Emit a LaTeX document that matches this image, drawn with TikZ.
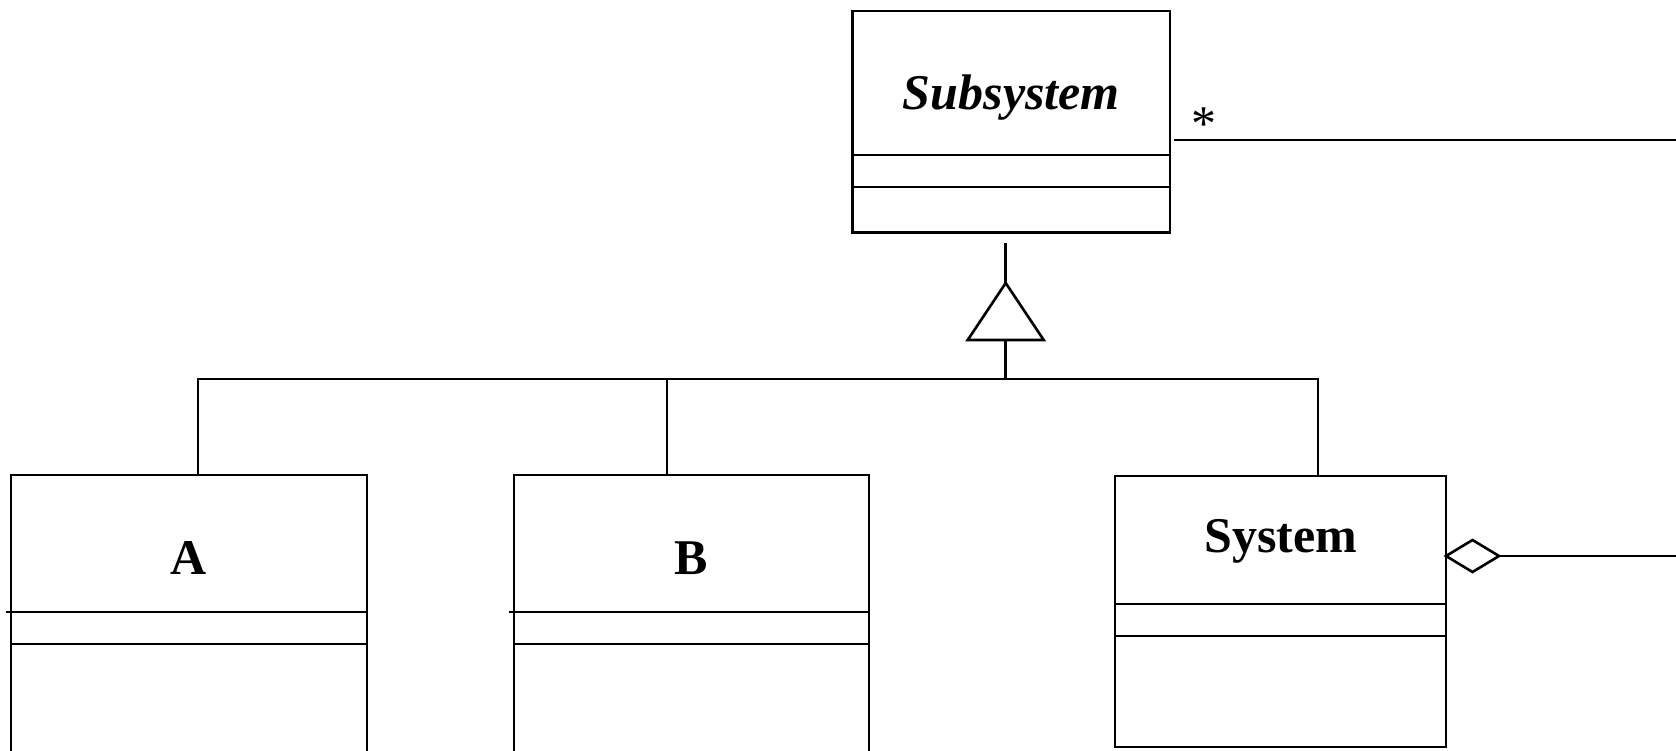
\documentclass[tikz,border=0pt]{standalone}
\usepackage{fontspec}
\setmainfont{Liberation Serif}
\usetikzlibrary{shapes.geometric}
\begin{document}
\begin{tikzpicture}[x=1pt,y=-1pt,
  line width=2.6pt,
  classbox/.style={draw, rectangle, inner sep=0pt, outer sep=0pt},
  classname/.style={font=\fontsize{50}{58}\selectfont\bfseries, anchor=base, inner sep=0pt},
  mult/.style={font=\fontsize{50}{58}\selectfont, anchor=base, inner sep=0pt}]
\useasboundingbox (0,0) rectangle (1676,750);
\clip (0,0) rectangle (1676,750);

% abstract superclass
\node[classbox, minimum width=317.3, minimum height=221.7] (sub) at (1011.3,121.85) {};
\node[classname, font=\fontsize{50}{58}\selectfont\bfseries\itshape] (subname) at (1011.3,109) {Subsystem};
\draw (sub.west |- 0,155) -- (sub.east |- 0,155);
\draw (sub.west |- 0,187) -- (sub.east |- 0,187);

% concrete subclasses
\node[classbox, minimum width=356, minimum height=330] (a) at (189,640) {};
\node[classname] (aname) at (189,574) {A};
\draw ([xshift=-5pt]a.west |- 0,612) -- (a.east |- 0,612);
\draw (a.west |- 0,644) -- (a.east |- 0,644);

\node[classbox, minimum width=355, minimum height=330] (b) at (691.5,640) {};
\node[classname] (bname) at (691.5,574) {B};
\draw ([xshift=-5pt]b.west |- 0,612) -- (b.east |- 0,612);
\draw (b.west |- 0,644) -- (b.east |- 0,644);

\node[classbox, minimum width=331, minimum height=271] (sys) at (1280.5,611.5) {};
\node[classname] (sysname) at (1281,552) {System};
\draw (sys.west |- 0,604) -- (sys.east |- 0,604);
\draw (sys.west |- 0,636) -- (sys.east |- 0,636);

% generalization: triangle and bus
\coordinate (apex) at (1005.7,283);
\coordinate (tbase) at (1005.7,340);
\coordinate (bus) at (1005.7,379);
\coordinate (subfoot) at ([yshift=-10pt]sub.south);
\draw (subfoot -| apex) -- (apex);
\draw[line join=miter] (apex) -- ++(38,57) -- ++(-76,0) -- cycle;
\draw (tbase) -- (bus);

\coordinate (atop) at ([xshift=9pt]a.north);
\coordinate (btop) at ([xshift=-24.5pt]b.north);
\coordinate (systop) at ([xshift=37.5pt]sys.north);
\draw (atop) -- (atop |- bus) -- (systop |- bus) -- (systop);
\draw (btop) -- (btop |- bus);

% association with multiplicity
\coordinate (far1) at (1676,140);
\coordinate (s1) at ([xshift=4pt]sub.east);
\draw (s1 |- far1) -- (far1);
\node[mult] (star) at (1204,140) {*};

% aggregation
\node[diamond, draw, inner sep=0pt, outer sep=0pt, minimum width=53, minimum height=32, anchor=west] (agg) at (sys.east |- 0,556) {};
\coordinate (far2) at (1676,556);
\draw (agg.east) -- (far2);
\end{tikzpicture}
\end{document}
